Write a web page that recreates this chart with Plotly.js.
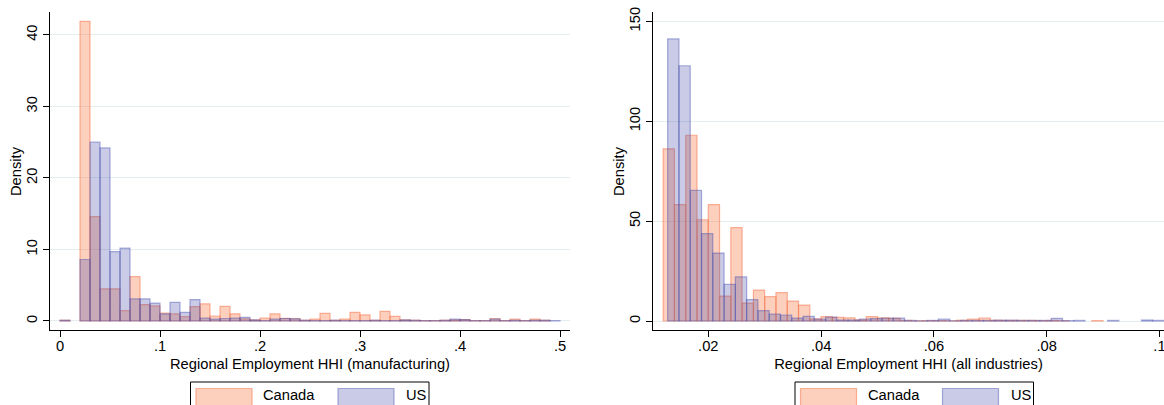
<!DOCTYPE html>
<html>
<head>
<meta charset="utf-8">
<script src="https://cdn.plot.ly/plotly-3.0.1.min.js"></script>
<style>html,body{margin:0;padding:0;background:#fff;}#chart{width:1164px;height:405px;}</style>
</head>
<body>
<div id="chart"></div>
<script>
// ---------- DATA ----------
// Left panel: Regional Employment HHI (manufacturing), bins of width .01 starting at 0
const leftBinStart = 0;
const leftBinWidth = 0.01;
const leftCanada = [0.1, 0, 41.9, 14.6, 4.5, 4.5, 1.45, 6.2, 2.3, 2.1,
                    1.1, 1.0, 0.6, 2.0, 2.4, 0.7, 2.05, 1.0, 0.3, 0.15,
                    0.4, 1.0, 0.37, 0.35, 0.1, 0.25, 1.07, 0.1, 0.25, 1.2,
                    0.85, 0.1, 1.35, 0.65, 0.15, 0.1, 0.05, 0.05, 0.1, 0.15,
                    0.2, 0.05, 0.05, 0.35, 0.05, 0.25, 0.05, 0.25, 0.1, 0];
const leftUS =     [0.1, 0, 8.6, 25.0, 24.2, 9.7, 10.2, 3.1, 3.1, 2.5,
                    1.0, 2.6, 1.2, 3.0, 0.4, 0.25, 0.35, 0.4, 0.5, 0.15,
                    0.05, 0.25, 0.35, 0.3, 0.1, 0.05, 0.05, 0.1, 0.05, 0.05,
                    0.05, 0.1, 0.05, 0.05, 0.15, 0.1, 0.05, 0.05, 0.1, 0.25,
                    0.2, 0.05, 0.05, 0.25, 0.05, 0.1, 0.05, 0.1, 0.1, 0.05];
const leftTicks = [0, 0.1, 0.2, 0.3, 0.4, 0.5];
const leftTickText = ['0', '.1', '.2', '.3', '.4', '.5'];
const leftYTicks = [0, 10, 20, 30, 40];

// Right panel: Regional Employment HHI (all industries), bins of width .002
const rightCanadaStart = 0.012;
const rightUSStart = 0.0128;
const rightBinWidth = 0.002;
const rightCanada = [86.2, 58.3, 93, 50.7, 58.3, 12.5, 46.8, 9, 15.5, 12.2,
                     14.2, 10, 8, 1.1, 2.2, 1.8, 1.6, 0.6, 2.2, 1.6,
                     1.3, 0.3, 0.1, 0.2, 0.2, 0.1, 0.4, 1.0, 1.5, 0.4,
                     0.3, 0.3, 0.3, 0.2, 0.3, 0.1, 0, 0, 0.2];
const rightUS = [141.2, 127.8, 65.4, 43.7, 34, 18.3, 22.1, 10.7, 5.2, 3.4,
                 3.0, 1.4, 2.3, 1.0, 2.0, 0.5, 0.5, 1.0, 1.2, 1.5,
                 1.4, 0.3, 0.1, 0.3, 1.0, 0.1, 0.3, 0.3, 0.3, 0.4,
                 0.4, 0.3, 0.3, 0.3, 1.3, 0.2, 0.3, 0, 0, 0.3,
                 0, 0, 0.5, 0.3];
const rightTicks = [0.02, 0.04, 0.06, 0.08, 0.1];
const rightTickText = ['.02', '.04', '.06', '.08', '.1'];
const rightYTicks = [0, 50, 100, 150];

const seriesNames = ['Canada', 'US'];
const xTitles = ['Regional Employment HHI (manufacturing)', 'Regional Employment HHI (all industries)'];
const yTitle = 'Density';

// ---------- STYLE ----------
const W = 1164, H = 405;
const canFill = 'rgba(250,128,80,0.37)';
const canLine = 'rgba(245,120,80,0.55)';
const usFill = 'rgba(60,70,170,0.28)';
const usLine = 'rgba(70,80,175,0.45)';
const gridCol = '#e4edf0';
const FONT = 'Liberation Sans, Arial, Helvetica, sans-serif';
const FS = 14.7;

function histTrace(values, start, width, name, fill, line, xa, ya) {
  const x = values.map((_, i) => start + i * width);
  const y = values.map(v => v === 0 ? null : v);
  return {
    type: 'bar', name: name, x: x, y: y, width: width, offset: 0,
    marker: {color: fill, line: {color: line, width: 1.2}},
    xaxis: xa, yaxis: ya, showlegend: false, hoverinfo: 'x+y'
  };
}

const data = [
  histTrace(leftCanada, leftBinStart, leftBinWidth, seriesNames[0], canFill, canLine, 'x', 'y'),
  histTrace(leftUS, leftBinStart, leftBinWidth, seriesNames[1], usFill, usLine, 'x', 'y'),
  histTrace(rightCanada, rightCanadaStart, rightBinWidth, seriesNames[0], canFill, canLine, 'x2', 'y2'),
  histTrace(rightUS, rightUSStart, rightBinWidth, seriesNames[1], usFill, usLine, 'x2', 'y2')
];

const yDom = [1 - 330 / H, 1 - 12 / H];
function xAxis(dom, range, tv, tt, title, anchor) {
  return {
    domain: dom, range: range, tickvals: tv, ticktext: tt, anchor: anchor,
    ticks: 'outside', ticklen: 6, tickwidth: 1, tickcolor: '#000',
    showline: true, linecolor: '#000', linewidth: 1, showgrid: false, zeroline: false,
    ticklabelstandoff: -4, ticklabeloverflow: 'allow',
    tickfont: {family: FONT, size: FS, color: '#000'},
    title: {text: title, font: {family: FONT, size: FS, color: '#000'}, standoff: 6},
    fixedrange: true
  };
}
function yAxis(range, tv, anchor) {
  return {
    domain: yDom, range: range, tickvals: tv, anchor: anchor, tickangle: -90,
    ticks: 'outside', ticklen: 6, tickwidth: 1, tickcolor: '#000',
    showline: true, linecolor: '#000', linewidth: 1, showgrid: true, gridcolor: gridCol, gridwidth: 1,
    zeroline: false, ticklabelstandoff: 0, ticklabeloverflow: 'allow',
    tickfont: {family: FONT, size: FS, color: '#000'},
    fixedrange: true
  };
}

const px = v => v / W, py = v => 1 - v / H;
const shapes = [], annotations = [];
// y-axis titles
function addYTitle(xpix) {
  annotations.push({xref: 'paper', yref: 'paper', x: px(xpix), y: (yDom[0] + yDom[1]) / 2, xanchor: 'center', yanchor: 'middle',
                    text: yTitle, textangle: -90, showarrow: false, font: {family: FONT, size: FS, color: '#000'}});
}
addYTitle(16);
addYTitle(619);
// Legend drawn as framed boxes with swatches, one under each panel
function addLegend(left) {
  shapes.push({type: 'rect', xref: 'paper', yref: 'paper', x0: px(left), x1: px(left + 238.5), y0: py(415), y1: py(382),
               line: {color: '#000', width: 1}, fillcolor: '#fff', layer: 'above'});
  shapes.push({type: 'rect', xref: 'paper', yref: 'paper', x0: px(left + 5.5), x1: px(left + 61.5), y0: py(415), y1: py(388.5),
               line: {color: canLine, width: 1.2}, fillcolor: canFill, layer: 'above'});
  shapes.push({type: 'rect', xref: 'paper', yref: 'paper', x0: px(left + 147.5), x1: px(left + 203.5), y0: py(415), y1: py(388.5),
               line: {color: usLine, width: 1.2}, fillcolor: usFill, layer: 'above'});
  annotations.push({xref: 'paper', yref: 'paper', x: px(left + 70.5), y: py(395), xanchor: 'left', yanchor: 'middle',
                    text: seriesNames[0], showarrow: false, font: {family: FONT, size: FS, color: '#000'}});
  annotations.push({xref: 'paper', yref: 'paper', x: px(left + 213.5), y: py(395), xanchor: 'left', yanchor: 'middle',
                    text: seriesNames[1], showarrow: false, font: {family: FONT, size: FS, color: '#000'}});
}
addLegend(190.5);
addLegend(795);

const layout = {
  width: W, height: H,
  margin: {l: 0, r: 0, t: 0, b: 0, pad: 0},
  paper_bgcolor: '#fff', plot_bgcolor: '#fff',
  font: {family: FONT, size: FS, color: '#000'},
  barmode: 'overlay', bargap: 0,
  showlegend: false,
  xaxis: xAxis([50 / W, 570 / W], [-0.01, 0.51], leftTicks, leftTickText, xTitles[0], 'y'),
  yaxis: yAxis([-1.26, 43.2], leftYTicks, 'x'),
  xaxis2: xAxis([653 / W, 1], [0.0102, 0.1008], rightTicks, rightTickText, xTitles[1], 'y2'),
  yaxis2: yAxis([-4.5, 154.7], rightYTicks, 'x2'),
  shapes: shapes, annotations: annotations
};

Plotly.newPlot('chart', data, layout, {staticPlot: true, displayModeBar: false});
</script>
</body>
</html>
